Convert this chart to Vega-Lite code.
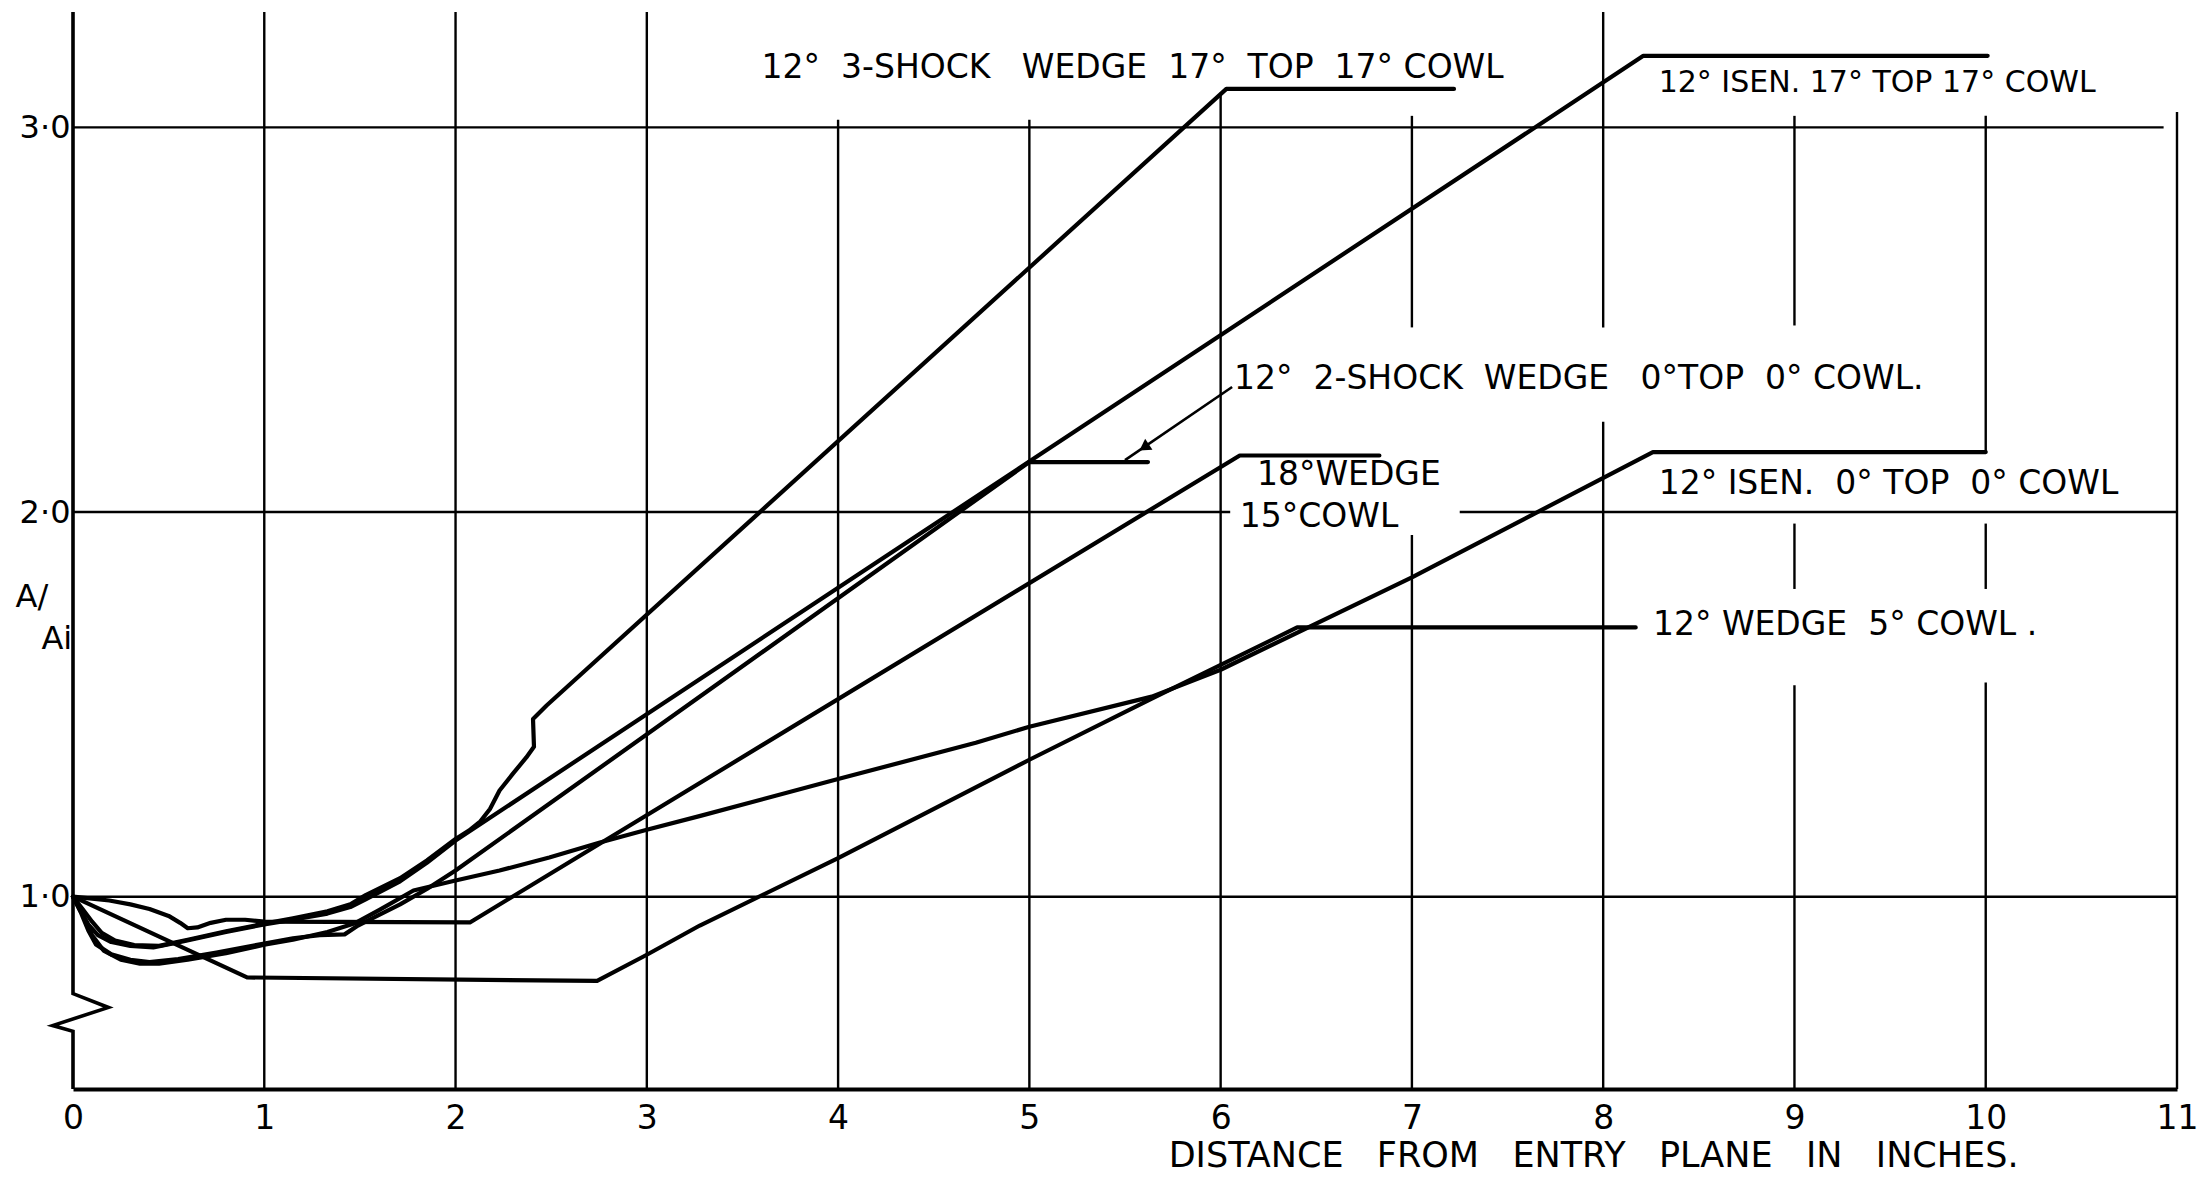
{
  "$schema": "https://vega.github.io/schema/vega-lite/v6.json",
  "width": 2104,
  "height": 1077,
  "autosize": {"type": "none"},
  "padding": {"left": 73, "top": 12, "right": 35, "bottom": 89},
  "background": "white",
  "config": {"view": {"stroke": null}, "font": "DejaVu Sans", "text": {"font": "DejaVu Sans", "color": "black"}},
  "datasets": {
    "vgrid": [
      {"x": 1, "y1": 0.5, "y2": 3.3}, {"x": 2, "y1": 0.5, "y2": 3.3}, {"x": 3, "y1": 0.5, "y2": 3.3},
      {"x": 4, "y1": 0.5, "y2": 3.02}, {"x": 5, "y1": 0.5, "y2": 3.02}, {"x": 6, "y1": 0.5, "y2": 3.09},
      {"x": 7, "y1": 0.5, "y2": 1.94}, {"x": 7, "y1": 2.48, "y2": 3.03},
      {"x": 8, "y1": 0.5, "y2": 2.235}, {"x": 8, "y1": 2.48, "y2": 3.3},
      {"x": 9, "y1": 0.5, "y2": 1.55}, {"x": 9, "y1": 1.8, "y2": 1.97}, {"x": 9, "y1": 2.485, "y2": 3.03},
      {"x": 10, "y1": 0.5, "y2": 1.557}, {"x": 10, "y1": 1.8, "y2": 1.97}, {"x": 10, "y1": 2.156, "y2": 3.03},
      {"x": 11, "y1": 0.5, "y2": 3.04}
    ],
    "hgrid": [
      {"y": 1.0, "x1": 0, "x2": 11},
      {"y": 2.0, "x1": 0, "x2": 6.05},
      {"y": 2.0, "x1": 7.25, "x2": 11},
      {"y": 3.0, "x1": 0, "x2": 10.93}
    ],
    "yaxisline": [
      {"i": 0, "x": 0, "y": 3.3}, {"i": 1, "x": 0, "y": 0.748}, {"i": 2, "x": 0.185, "y": 0.712},
      {"i": 3, "x": -0.106, "y": 0.665}, {"i": 4, "x": 0, "y": 0.65}, {"i": 5, "x": 0, "y": 0.5}
    ],
    "curves": [
      {"s": "12° 3-SHOCK WEDGE 17° TOP 17° COWL", "i": 0, "x": 0, "y": 1.0},
      {"s": "12° 3-SHOCK WEDGE 17° TOP 17° COWL", "i": 1, "x": 0.05, "y": 0.968},
      {"s": "12° 3-SHOCK WEDGE 17° TOP 17° COWL", "i": 2, "x": 0.1, "y": 0.935},
      {"s": "12° 3-SHOCK WEDGE 17° TOP 17° COWL", "i": 3, "x": 0.15, "y": 0.906},
      {"s": "12° 3-SHOCK WEDGE 17° TOP 17° COWL", "i": 4, "x": 0.22, "y": 0.886},
      {"s": "12° 3-SHOCK WEDGE 17° TOP 17° COWL", "i": 5, "x": 0.32, "y": 0.874},
      {"s": "12° 3-SHOCK WEDGE 17° TOP 17° COWL", "i": 6, "x": 0.45, "y": 0.872},
      {"s": "12° 3-SHOCK WEDGE 17° TOP 17° COWL", "i": 7, "x": 0.6, "y": 0.888},
      {"s": "12° 3-SHOCK WEDGE 17° TOP 17° COWL", "i": 8, "x": 0.8, "y": 0.91},
      {"s": "12° 3-SHOCK WEDGE 17° TOP 17° COWL", "i": 9, "x": 1.0, "y": 0.93},
      {"s": "12° 3-SHOCK WEDGE 17° TOP 17° COWL", "i": 10, "x": 1.15, "y": 0.944},
      {"s": "12° 3-SHOCK WEDGE 17° TOP 17° COWL", "i": 11, "x": 1.33, "y": 0.962},
      {"s": "12° 3-SHOCK WEDGE 17° TOP 17° COWL", "i": 12, "x": 1.45, "y": 0.98},
      {"s": "12° 3-SHOCK WEDGE 17° TOP 17° COWL", "i": 13, "x": 1.53, "y": 1.004},
      {"s": "12° 3-SHOCK WEDGE 17° TOP 17° COWL", "i": 14, "x": 1.71, "y": 1.048},
      {"s": "12° 3-SHOCK WEDGE 17° TOP 17° COWL", "i": 15, "x": 1.85, "y": 1.094},
      {"s": "12° 3-SHOCK WEDGE 17° TOP 17° COWL", "i": 16, "x": 2.0, "y": 1.15},
      {"s": "12° 3-SHOCK WEDGE 17° TOP 17° COWL", "i": 17, "x": 2.07, "y": 1.172},
      {"s": "12° 3-SHOCK WEDGE 17° TOP 17° COWL", "i": 18, "x": 2.13, "y": 1.196},
      {"s": "12° 3-SHOCK WEDGE 17° TOP 17° COWL", "i": 19, "x": 2.18, "y": 1.228},
      {"s": "12° 3-SHOCK WEDGE 17° TOP 17° COWL", "i": 20, "x": 2.23, "y": 1.276},
      {"s": "12° 3-SHOCK WEDGE 17° TOP 17° COWL", "i": 21, "x": 2.3, "y": 1.32},
      {"s": "12° 3-SHOCK WEDGE 17° TOP 17° COWL", "i": 22, "x": 2.37, "y": 1.362},
      {"s": "12° 3-SHOCK WEDGE 17° TOP 17° COWL", "i": 23, "x": 2.41, "y": 1.39},
      {"s": "12° 3-SHOCK WEDGE 17° TOP 17° COWL", "i": 24, "x": 2.405, "y": 1.462},
      {"s": "12° 3-SHOCK WEDGE 17° TOP 17° COWL", "i": 25, "x": 2.476, "y": 1.497},
      {"s": "12° 3-SHOCK WEDGE 17° TOP 17° COWL", "i": 26, "x": 6.03, "y": 3.1},
      {"s": "12° 3-SHOCK WEDGE 17° TOP 17° COWL", "i": 27, "x": 7.22, "y": 3.1},

      {"s": "12° ISEN. 17° TOP 17° COWL", "i": 0, "x": 0, "y": 1.0},
      {"s": "12° ISEN. 17° TOP 17° COWL", "i": 1, "x": 0.04, "y": 0.962},
      {"s": "12° ISEN. 17° TOP 17° COWL", "i": 2, "x": 0.08, "y": 0.928},
      {"s": "12° ISEN. 17° TOP 17° COWL", "i": 3, "x": 0.13, "y": 0.9},
      {"s": "12° ISEN. 17° TOP 17° COWL", "i": 4, "x": 0.2, "y": 0.882},
      {"s": "12° ISEN. 17° TOP 17° COWL", "i": 5, "x": 0.3, "y": 0.872},
      {"s": "12° ISEN. 17° TOP 17° COWL", "i": 6, "x": 0.42, "y": 0.868},
      {"s": "12° ISEN. 17° TOP 17° COWL", "i": 7, "x": 0.58, "y": 0.884},
      {"s": "12° ISEN. 17° TOP 17° COWL", "i": 8, "x": 0.8, "y": 0.908},
      {"s": "12° ISEN. 17° TOP 17° COWL", "i": 9, "x": 1.0, "y": 0.928},
      {"s": "12° ISEN. 17° TOP 17° COWL", "i": 10, "x": 1.15, "y": 0.94},
      {"s": "12° ISEN. 17° TOP 17° COWL", "i": 11, "x": 1.33, "y": 0.956},
      {"s": "12° ISEN. 17° TOP 17° COWL", "i": 12, "x": 1.45, "y": 0.973},
      {"s": "12° ISEN. 17° TOP 17° COWL", "i": 13, "x": 1.53, "y": 0.993},
      {"s": "12° ISEN. 17° TOP 17° COWL", "i": 14, "x": 1.71, "y": 1.04},
      {"s": "12° ISEN. 17° TOP 17° COWL", "i": 15, "x": 1.85, "y": 1.088},
      {"s": "12° ISEN. 17° TOP 17° COWL", "i": 16, "x": 2.0, "y": 1.146},
      {"s": "12° ISEN. 17° TOP 17° COWL", "i": 17, "x": 8.21, "y": 3.186},
      {"s": "12° ISEN. 17° TOP 17° COWL", "i": 18, "x": 10.01, "y": 3.186},

      {"s": "18° WEDGE 15° COWL", "i": 0, "x": 0, "y": 1.0},
      {"s": "18° WEDGE 15° COWL", "i": 1, "x": 0.1, "y": 0.995},
      {"s": "18° WEDGE 15° COWL", "i": 2, "x": 0.19, "y": 0.99},
      {"s": "18° WEDGE 15° COWL", "i": 3, "x": 0.3, "y": 0.98},
      {"s": "18° WEDGE 15° COWL", "i": 4, "x": 0.4, "y": 0.968},
      {"s": "18° WEDGE 15° COWL", "i": 5, "x": 0.5, "y": 0.95},
      {"s": "18° WEDGE 15° COWL", "i": 6, "x": 0.56, "y": 0.932},
      {"s": "18° WEDGE 15° COWL", "i": 7, "x": 0.6, "y": 0.918},
      {"s": "18° WEDGE 15° COWL", "i": 8, "x": 0.65, "y": 0.92},
      {"s": "18° WEDGE 15° COWL", "i": 9, "x": 0.72, "y": 0.932},
      {"s": "18° WEDGE 15° COWL", "i": 10, "x": 0.8, "y": 0.94},
      {"s": "18° WEDGE 15° COWL", "i": 11, "x": 0.9, "y": 0.94},
      {"s": "18° WEDGE 15° COWL", "i": 12, "x": 1.0, "y": 0.935},
      {"s": "18° WEDGE 15° COWL", "i": 13, "x": 2.075, "y": 0.933},
      {"s": "18° WEDGE 15° COWL", "i": 14, "x": 6.1, "y": 2.147},
      {"s": "18° WEDGE 15° COWL", "i": 15, "x": 6.83, "y": 2.147},

      {"s": "12° ISEN. 0° TOP 0° COWL", "i": 0, "x": 0, "y": 1.0},
      {"s": "12° ISEN. 0° TOP 0° COWL", "i": 1, "x": 0.05, "y": 0.955},
      {"s": "12° ISEN. 0° TOP 0° COWL", "i": 2, "x": 0.1, "y": 0.9},
      {"s": "12° ISEN. 0° TOP 0° COWL", "i": 3, "x": 0.16, "y": 0.86},
      {"s": "12° ISEN. 0° TOP 0° COWL", "i": 4, "x": 0.25, "y": 0.836},
      {"s": "12° ISEN. 0° TOP 0° COWL", "i": 5, "x": 0.35, "y": 0.826},
      {"s": "12° ISEN. 0° TOP 0° COWL", "i": 6, "x": 0.45, "y": 0.826},
      {"s": "12° ISEN. 0° TOP 0° COWL", "i": 7, "x": 0.6, "y": 0.836},
      {"s": "12° ISEN. 0° TOP 0° COWL", "i": 8, "x": 0.8, "y": 0.853},
      {"s": "12° ISEN. 0° TOP 0° COWL", "i": 9, "x": 1.0, "y": 0.875},
      {"s": "12° ISEN. 0° TOP 0° COWL", "i": 10, "x": 1.15, "y": 0.888},
      {"s": "12° ISEN. 0° TOP 0° COWL", "i": 11, "x": 1.33, "y": 0.908},
      {"s": "12° ISEN. 0° TOP 0° COWL", "i": 12, "x": 1.47, "y": 0.93},
      {"s": "12° ISEN. 0° TOP 0° COWL", "i": 13, "x": 1.6, "y": 0.965},
      {"s": "12° ISEN. 0° TOP 0° COWL", "i": 14, "x": 1.78, "y": 1.016},
      {"s": "12° ISEN. 0° TOP 0° COWL", "i": 15, "x": 2.0, "y": 1.042},
      {"s": "12° ISEN. 0° TOP 0° COWL", "i": 16, "x": 2.23, "y": 1.068},
      {"s": "12° ISEN. 0° TOP 0° COWL", "i": 17, "x": 2.49, "y": 1.102},
      {"s": "12° ISEN. 0° TOP 0° COWL", "i": 18, "x": 2.755, "y": 1.141},
      {"s": "12° ISEN. 0° TOP 0° COWL", "i": 19, "x": 3.0, "y": 1.174},
      {"s": "12° ISEN. 0° TOP 0° COWL", "i": 20, "x": 3.28, "y": 1.21},
      {"s": "12° ISEN. 0° TOP 0° COWL", "i": 21, "x": 4.0, "y": 1.306},
      {"s": "12° ISEN. 0° TOP 0° COWL", "i": 22, "x": 4.72, "y": 1.4},
      {"s": "12° ISEN. 0° TOP 0° COWL", "i": 23, "x": 5.0, "y": 1.442},
      {"s": "12° ISEN. 0° TOP 0° COWL", "i": 24, "x": 5.64, "y": 1.52},
      {"s": "12° ISEN. 0° TOP 0° COWL", "i": 25, "x": 6.0, "y": 1.59},
      {"s": "12° ISEN. 0° TOP 0° COWL", "i": 26, "x": 7.0, "y": 1.83},
      {"s": "12° ISEN. 0° TOP 0° COWL", "i": 27, "x": 8.26, "y": 2.156},
      {"s": "12° ISEN. 0° TOP 0° COWL", "i": 28, "x": 10.0, "y": 2.156},

      {"s": "12° WEDGE 5° COWL", "i": 0, "x": 0, "y": 1.0},
      {"s": "12° WEDGE 5° COWL", "i": 1, "x": 0.91, "y": 0.79},
      {"s": "12° WEDGE 5° COWL", "i": 2, "x": 2.74, "y": 0.781},
      {"s": "12° WEDGE 5° COWL", "i": 3, "x": 3.0, "y": 0.849},
      {"s": "12° WEDGE 5° COWL", "i": 4, "x": 3.277, "y": 0.925},
      {"s": "12° WEDGE 5° COWL", "i": 5, "x": 4.0, "y": 1.1},
      {"s": "12° WEDGE 5° COWL", "i": 6, "x": 5.0, "y": 1.356},
      {"s": "12° WEDGE 5° COWL", "i": 7, "x": 5.64, "y": 1.515},
      {"s": "12° WEDGE 5° COWL", "i": 8, "x": 6.4, "y": 1.7},
      {"s": "12° WEDGE 5° COWL", "i": 9, "x": 8.17, "y": 1.7},

      {"s": "12° 2-SHOCK WEDGE 0° TOP 0° COWL", "i": 0, "x": 0, "y": 1.0},
      {"s": "12° 2-SHOCK WEDGE 0° TOP 0° COWL", "i": 1, "x": 0.04, "y": 0.96},
      {"s": "12° 2-SHOCK WEDGE 0° TOP 0° COWL", "i": 2, "x": 0.08, "y": 0.912},
      {"s": "12° 2-SHOCK WEDGE 0° TOP 0° COWL", "i": 3, "x": 0.12, "y": 0.876},
      {"s": "12° 2-SHOCK WEDGE 0° TOP 0° COWL", "i": 4, "x": 0.2, "y": 0.85},
      {"s": "12° 2-SHOCK WEDGE 0° TOP 0° COWL", "i": 5, "x": 0.3, "y": 0.836},
      {"s": "12° 2-SHOCK WEDGE 0° TOP 0° COWL", "i": 6, "x": 0.4, "y": 0.83},
      {"s": "12° 2-SHOCK WEDGE 0° TOP 0° COWL", "i": 7, "x": 0.55, "y": 0.838},
      {"s": "12° 2-SHOCK WEDGE 0° TOP 0° COWL", "i": 8, "x": 0.75, "y": 0.855},
      {"s": "12° 2-SHOCK WEDGE 0° TOP 0° COWL", "i": 9, "x": 1.0, "y": 0.878},
      {"s": "12° 2-SHOCK WEDGE 0° TOP 0° COWL", "i": 10, "x": 1.15, "y": 0.892},
      {"s": "12° 2-SHOCK WEDGE 0° TOP 0° COWL", "i": 11, "x": 1.29, "y": 0.9},
      {"s": "12° 2-SHOCK WEDGE 0° TOP 0° COWL", "i": 12, "x": 1.42, "y": 0.902},
      {"s": "12° 2-SHOCK WEDGE 0° TOP 0° COWL", "i": 13, "x": 1.49, "y": 0.925},
      {"s": "12° 2-SHOCK WEDGE 0° TOP 0° COWL", "i": 14, "x": 1.59, "y": 0.95},
      {"s": "12° 2-SHOCK WEDGE 0° TOP 0° COWL", "i": 15, "x": 1.71, "y": 0.98},
      {"s": "12° 2-SHOCK WEDGE 0° TOP 0° COWL", "i": 16, "x": 1.85, "y": 1.02},
      {"s": "12° 2-SHOCK WEDGE 0° TOP 0° COWL", "i": 17, "x": 2.0, "y": 1.068},
      {"s": "12° 2-SHOCK WEDGE 0° TOP 0° COWL", "i": 18, "x": 5.0, "y": 2.13},
      {"s": "12° 2-SHOCK WEDGE 0° TOP 0° COWL", "i": 19, "x": 5.62, "y": 2.13}
    ],
    "leader": [
      {"i": 0, "x": 6.06, "y": 2.325},
      {"i": 1, "x": 5.5, "y": 2.135}
    ],
    "arrowhead": [
      {"x": 5.6, "y": 2.168}
    ],
    "labels": [
      {"t": "12°\u00a0 3-SHOCK\u00a0\u00a0 WEDGE\u00a0 17°\u00a0 TOP\u00a0 17° COWL", "x": 3.6, "y": 3.128},
      {"t": "12°\u00a0 2-SHOCK\u00a0 WEDGE\u00a0\u00a0 0°TOP\u00a0 0° COWL.", "x": 6.07, "y": 2.32},
      {"t": "18°WEDGE", "x": 6.19, "y": 2.069},
      {"t": "15°COWL", "x": 6.1, "y": 1.96},
      {"t": "12° ISEN.\u00a0 0° TOP\u00a0 0° COWL", "x": 8.29, "y": 2.046},
      {"t": "12° WEDGE\u00a0 5° COWL .", "x": 8.26, "y": 1.681}
    ],
    "labelsSmall": [
      {"t": "12° ISEN. 17° TOP 17° COWL", "x": 8.29, "y": 3.092}
    ],
    "titles": [
      {"t": "DISTANCE\u00a0\u00a0 FROM\u00a0\u00a0 ENTRY\u00a0\u00a0 PLANE\u00a0\u00a0 IN\u00a0\u00a0 INCHES.", "x": 7.95, "y": 0.296}
    ],
    "ytitle": [
      {"t": "A/", "x": -0.3, "y": 1.752},
      {"t": "Ai", "x": -0.165, "y": 1.645}
    ]
  },
  "layer": [
    {
      "data": {"name": "vgrid"},
      "mark": {"type": "rule", "color": "black", "strokeWidth": 2.4},
      "encoding": {
        "x": {
          "field": "x", "type": "quantitative",
          "scale": {"domain": [0, 11], "nice": false, "zero": false},
          "axis": {
            "values": [0, 1, 2, 3, 4, 5, 6, 7, 8, 9, 10, 11],
            "labelExpr": "format(datum.value, 'd')",
            "title": null, "grid": false, "ticks": false,
            "domain": true, "domainColor": "black", "domainWidth": 4,
            "labelFontSize": 33, "labelColor": "black", "labelFont": "DejaVu Sans",
            "labelPadding": 13, "labelFlush": false, "labelOverlap": false
          }
        },
        "y": {
          "field": "y1", "type": "quantitative",
          "scale": {"domain": [0.5, 3.3], "nice": false, "zero": false},
          "axis": {
            "values": [1, 2, 3],
            "title": null, "grid": false, "ticks": false, "domain": false,
            "labelFontSize": 32, "labelColor": "black", "labelFont": "DejaVu Sans",
            "labelPadding": 3,
            "labelExpr": "replace(format(datum.value, '.1f'), '.', '·')"
          }
        },
        "y2": {"field": "y2"}
      }
    },
    {
      "data": {"name": "hgrid"},
      "mark": {"type": "rule", "color": "black", "strokeWidth": 2.4},
      "encoding": {
        "x": {"field": "x1", "type": "quantitative", "title": null},
        "x2": {"field": "x2"},
        "y": {"field": "y", "type": "quantitative", "title": null}
      }
    },
    {
      "data": {"name": "yaxisline"},
      "mark": {"type": "line", "color": "black", "strokeWidth": 3.6, "strokeJoin": "miter"},
      "encoding": {
        "x": {"field": "x", "type": "quantitative", "title": null},
        "y": {"field": "y", "type": "quantitative", "title": null},
        "order": {"field": "i", "type": "quantitative"}
      }
    },
    {
      "data": {"name": "curves"},
      "mark": {"type": "line", "color": "black", "strokeWidth": 4.2, "strokeJoin": "round", "strokeCap": "round"},
      "encoding": {
        "x": {"field": "x", "type": "quantitative", "title": null},
        "y": {"field": "y", "type": "quantitative", "title": null},
        "detail": {"field": "s", "type": "nominal"},
        "order": {"field": "i", "type": "quantitative"}
      }
    },
    {
      "data": {"name": "leader"},
      "mark": {"type": "line", "color": "black", "strokeWidth": 2.6},
      "encoding": {
        "x": {"field": "x", "type": "quantitative", "title": null},
        "y": {"field": "y", "type": "quantitative", "title": null},
        "order": {"field": "i", "type": "quantitative"}
      }
    },
    {
      "data": {"name": "arrowhead"},
      "mark": {"type": "point", "shape": "triangle-up", "filled": true, "color": "black", "size": 170, "angle": 236, "opacity": 1},
      "encoding": {
        "x": {"field": "x", "type": "quantitative", "title": null},
        "y": {"field": "y", "type": "quantitative", "title": null}
      }
    },
    {
      "data": {"name": "labels"},
      "mark": {"type": "text", "align": "left", "baseline": "alphabetic", "fontSize": 33, "font": "DejaVu Sans", "color": "black"},
      "encoding": {
        "x": {"field": "x", "type": "quantitative", "title": null},
        "y": {"field": "y", "type": "quantitative", "title": null},
        "text": {"field": "t", "type": "nominal"}
      }
    },
    {
      "data": {"name": "labelsSmall"},
      "mark": {"type": "text", "align": "left", "baseline": "alphabetic", "fontSize": 30, "font": "DejaVu Sans", "color": "black"},
      "encoding": {
        "x": {"field": "x", "type": "quantitative", "title": null},
        "y": {"field": "y", "type": "quantitative", "title": null},
        "text": {"field": "t", "type": "nominal"}
      }
    },
    {
      "data": {"name": "titles"},
      "mark": {"type": "text", "align": "center", "baseline": "alphabetic", "fontSize": 35, "font": "DejaVu Sans", "color": "black"},
      "encoding": {
        "x": {"field": "x", "type": "quantitative", "title": null},
        "y": {"field": "y", "type": "quantitative", "title": null},
        "text": {"field": "t", "type": "nominal"}
      }
    },
    {
      "data": {"name": "ytitle"},
      "mark": {"type": "text", "align": "left", "baseline": "alphabetic", "fontSize": 32, "font": "DejaVu Sans", "color": "black"},
      "encoding": {
        "x": {"field": "x", "type": "quantitative", "title": null},
        "y": {"field": "y", "type": "quantitative", "title": null},
        "text": {"field": "t", "type": "nominal"}
      }
    }
  ]
}
